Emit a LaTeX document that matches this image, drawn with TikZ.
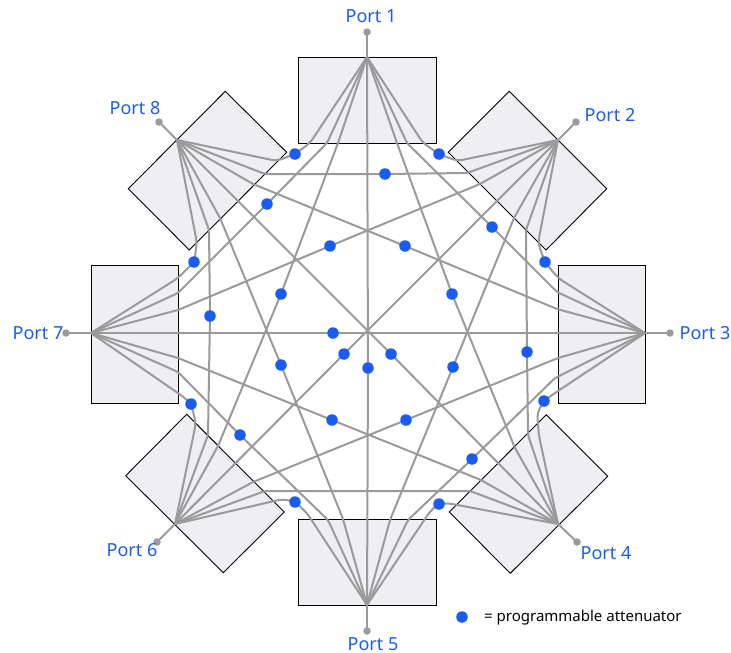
\documentclass[tikz,border=0pt]{standalone}
\usepackage{fontspec}
\setmainfont{Noto Sans}
\usetikzlibrary{backgrounds}
\definecolor{portblue}{HTML}{1A5CF0}
\definecolor{wiregray}{HTML}{9A9A9A}
\definecolor{boxfill}{HTML}{EEEEF3}
\tikzset{
  panel/.style={draw=black,line width=0.9pt,fill=boxfill},
  wire/.style={draw=wiregray,line width=2pt,rounded corners=3pt,line join=round},
  curvy/.style={wire,rounded corners=6pt},
  att/.style={circle,fill=portblue,minimum size=11.5pt,inner sep=0pt},
  term/.style={circle,fill=wiregray,minimum size=7.5pt,inner sep=0pt},
  portlabel/.style={text=portblue,font=\fontsize{18}{20}\selectfont,inner sep=0pt},
}
\begin{document}
\begin{tikzpicture}[x=1pt,y=-1pt]
\useasboundingbox (0,0) rectangle (731,653);
% hubs
\coordinate (h1) at (367,57);
\coordinate (h2) at (558,140);
\coordinate (h3) at (645,333);
\coordinate (h4) at (558,524);
\coordinate (h5) at (367,605);
\coordinate (h6) at (175,524);
\coordinate (h7) at (91,333);
\coordinate (h8) at (177,140);
% terminals
\node[term] (t1) at (367,32) {};
\node[term] (t2) at (576,122) {};
\node[term] (t3) at (670,333) {};
\node[term] (t4) at (577,542) {};
\node[term] (t5) at (367,631) {};
\node[term] (t6) at (157,542) {};
\node[term] (t7) at (66,333) {};
\node[term] (t8) at (159,122) {};
% attenuators
\node[att] (a18) at (295,154) {};
\node[att] (a12) at (439,154) {};
\node[att] (a28) at (385,174) {};
\node[att] (a17) at (267,204) {};
\node[att] (a13) at (492,227) {};
\node[att] (a27) at (330,246) {};
\node[att] (a38) at (405,246) {};
\node[att] (a78) at (194,262) {};
\node[att] (a23) at (545,262) {};
\node[att] (a16) at (281,294) {};
\node[att] (a14) at (452,294) {};
\node[att] (a68) at (210,316) {};
\node[att] (a37) at (333,333) {};
\node[att] (a24) at (527,352) {};
\node[att] (a58) at (281,365) {};
\node[att] (a26) at (344,354) {};
\node[att] (a48) at (391,354) {};
\node[att] (a15) at (368,368) {};
\node[att] (a25) at (453,367) {};
\node[att] (a47) at (332,420) {};
\node[att] (a36) at (406,420) {};
\node[att] (a67) at (191,404) {};
\node[att] (a34) at (544,401) {};
\node[att] (a57) at (240,435) {};
\node[att] (a35) at (472,459) {};
\node[att] (a56) at (295,502) {};
\node[att] (a45) at (439,504) {};
% labels
\node[portlabel] (l1) at (371,16) {Port 1};
\node[portlabel] (l2) at (610,115) {Port 2};
\node[portlabel] (l3) at (705,333) {Port 3};
\node[portlabel] (l4) at (606,553) {Port 4};
\node[portlabel] (l5) at (373,644) {Port 5};
\node[portlabel] (l6) at (132,550) {Port 6};
\node[portlabel] (l7) at (38,333) {Port 7};
\node[portlabel] (l8) at (135,108) {Port 8};
% legend
\node[att] (legdot) at (462,617) {};
\node[anchor=west,inner sep=0pt,font=\fontsize{15}{17}\selectfont] (legtext) at (484,618) {= programmable attenuator};
\begin{scope}[on background layer]
% panels
\draw[panel] (298,57) rectangle (436,143);
\draw[panel] (558,265) rectangle (645,403);
\draw[panel] (298,519) rectangle (436,605);
\draw[panel] (91,265) rectangle (178,403);
\draw[panel] (225.3,91.3) -- (286.7,152.3) -- (189.3,250) -- (128.3,188.7) -- cycle;
\draw[panel] (509.3,91.3) -- (606.7,188.7) -- (546,250) -- (448.3,152.3) -- cycle;
\draw[panel] (186.7,414.3) -- (284.3,512) -- (223.3,572.7) -- (125.7,475.7) -- cycle;
\draw[panel] (546.3,414.7) -- (607.7,476.3) -- (510.3,573.3) -- (449.3,512) -- cycle;
% port stubs
\draw[wire] (t1.center) -- (h1);
\draw[wire] (t2.center) -- (h2);
\draw[wire] (t3.center) -- (h3);
\draw[wire] (t4.center) -- (h4);
\draw[wire] (t5.center) -- (h5);
\draw[wire] (t6.center) -- (h6);
\draw[wire] (t7.center) -- (h7);
\draw[wire] (t8.center) -- (h8);
% wires
\draw[curvy] (h8) -- (277,161) -- (a18.center) -- (310,143) -- (h1);
\draw[curvy] (h1) -- (423,143) -- (a12.center) -- (457,161) -- (h2);
\draw[wire] (h8) -- (265,174) -- (a28.center) -- (467,173) -- (h2);
\draw[wire] (h7) -- (178,293) -- (a17.center) -- (327,143) -- (h1);
\draw[wire] (h1) -- (407,143) -- (a13.center) -- (557,292) -- (h3);
\draw[wire] (h7) -- (178,310) -- (a27.center) -- (480,184) -- (h2);
\draw[wire] (h8) -- (253,184) -- (a38.center) -- (557,309) -- (h3);
\draw[curvy] (h7) -- (178,278) -- (a78.center) -- (197,243) -- (h8);
\draw[curvy] (h3) -- (558,278) -- (a23.center) -- (538,243) -- (h2);
\draw[wire] (h1) -- (338,143) -- (a16.center) -- (218,446) -- (h6);
\draw[wire] (h1) -- (397,143) -- (a14.center) -- (515,448) -- (h4);
\draw[wire] (h8) -- (209,230) -- (a68.center) -- (208,435) -- (h6);
\draw[wire] (h2) -- (526,230) -- (a24.center) -- (528,435) -- (h4);
\draw[wire] (h7) -- (a37.center) -- (h3);
\draw[wire] (h1) -- (a15.center) -- (h5);
\draw[wire] (h8) -- (220,218) -- (a58.center) -- (343,519) -- (h5);
\draw[wire] (h6) -- (a26.center) -- (h2);
\draw[wire] (h8) -- (a48.center) -- (h4);
\draw[wire] (h2) -- (514,218) -- (a25.center) -- (390,520) -- (h5);
\draw[wire] (h5) -- (408,520) -- (a35.center) -- (555,378) -- (h3);
\draw[wire] (h7) -- (178,372) -- (a57.center) -- (328,520) -- (h5);
\draw[wire] (h7) -- (178,358) -- (a47.center) -- (481,480) -- (h4);
\draw[wire] (h6) -- (253,482) -- (a36.center) -- (558,358) -- (h3);
\draw[wire] (h6) -- (265,491) -- (470,491) -- (h4);
\draw[curvy] (h6) -- (283,499) -- (a56.center) -- (307,513) -- (h5);
\draw[curvy] (h5) -- (431,510) -- (a45.center) -- (447,503) -- (h4);
\draw[curvy] (h7) -- (185,398) -- (a67.center) -- (196,423) -- (h6);
\draw[curvy] (h3) -- (552,395) -- (a34.center) -- (537,413) -- (539,436) -- (h4);
\end{scope}
\end{tikzpicture}
\end{document}
